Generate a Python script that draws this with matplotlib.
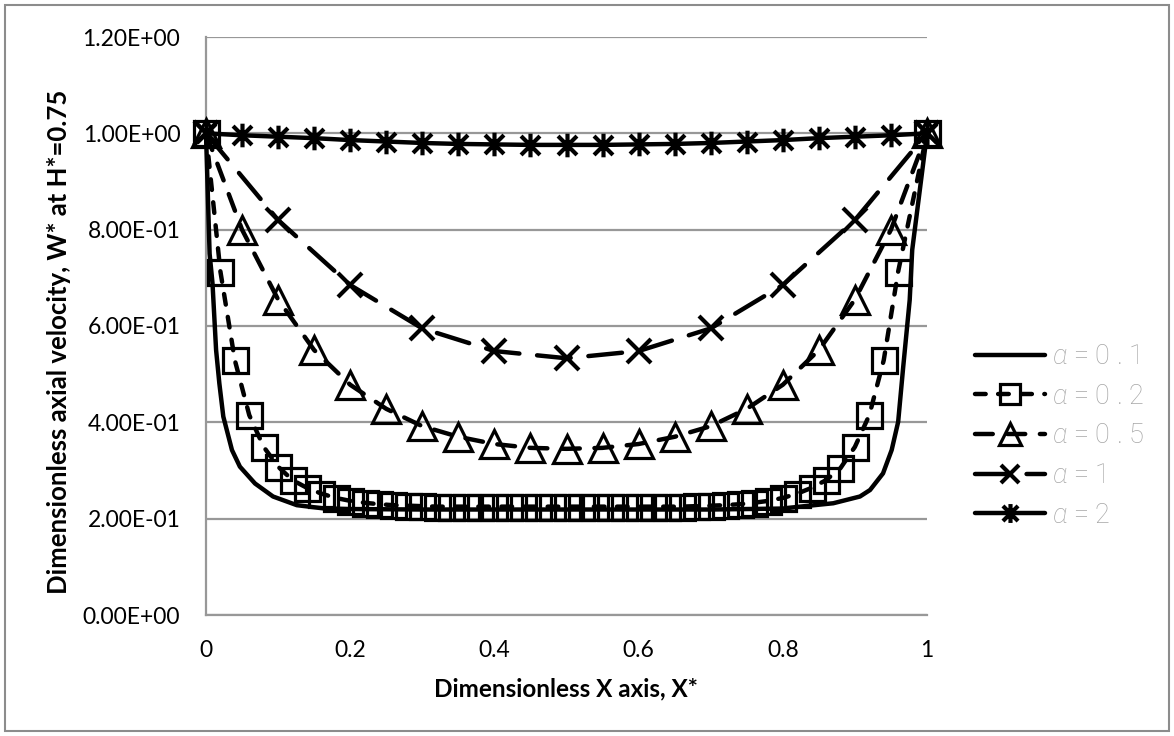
import matplotlib
matplotlib.use("Agg")
import matplotlib.pyplot as plt
from matplotlib.path import Path
from matplotlib.patches import Rectangle
from matplotlib.ticker import FuncFormatter, FixedLocator
from matplotlib.font_manager import FontProperties

plt.rcParams['font.family'] = ['Lato', 'DejaVu Sans']
plt.rcParams['mathtext.fontset'] = 'custom'
plt.rcParams['mathtext.it'] = 'Roboto:italic:light'
plt.rcParams['mathtext.rm'] = 'Roboto:light'

# ---- data -------------------------------------------------------------
labels = [r'$\alpha$ = 0 . 1', r'$\alpha$ = 0 . 2', r'$\alpha$ = 0 . 5',
          r'$\alpha$ = 1', r'$\alpha$ = 2']

x_a01 = [0.0, 0.005, 0.009, 0.014, 0.0185, 0.024, 0.036, 0.047, 0.068, 0.093,
         0.126, 0.162, 0.2, 0.3, 0.4, 0.5, 0.6, 0.7, 0.8, 0.824,
         0.87, 0.907, 0.921, 0.939, 0.951, 0.96, 0.967, 0.976, 0.9795, 1.0]
w_a01 = [1.0, 0.75, 0.689, 0.55, 0.481, 0.412, 0.3425, 0.308, 0.273, 0.246,
         0.228, 0.2215, 0.22, 0.219, 0.219, 0.219, 0.219, 0.219, 0.221, 0.225,
         0.232, 0.246, 0.2595, 0.294, 0.3425, 0.401, 0.515, 0.654, 0.758, 1.0]

x_a02 = [0.00, 0.02, 0.04, 0.06, 0.08, 0.10, 0.12, 0.14, 0.16, 0.18,
         0.20, 0.22, 0.24, 0.26, 0.28, 0.30, 0.32, 0.34, 0.36, 0.38,
         0.40, 0.42, 0.44, 0.46, 0.48, 0.50, 0.52, 0.54, 0.56, 0.58,
         0.60, 0.62, 0.64, 0.66, 0.68, 0.70, 0.72, 0.74, 0.76, 0.78,
         0.80, 0.82, 0.84, 0.86, 0.88, 0.90, 0.92, 0.94, 0.96, 1.00]
w_a02 = [1.000, 0.713, 0.529, 0.415, 0.349, 0.308, 0.280, 0.264, 0.252, 0.243,
         0.237, 0.233, 0.230, 0.228, 0.227, 0.226, 0.225, 0.225, 0.225, 0.225,
         0.225, 0.225, 0.225, 0.225, 0.225, 0.225, 0.225, 0.225, 0.225, 0.225,
         0.225, 0.225, 0.225, 0.225, 0.226, 0.227, 0.228, 0.230, 0.233, 0.237,
         0.243, 0.252, 0.264, 0.280, 0.305, 0.349, 0.415, 0.529, 0.713, 1.000]

x_a05 = [0.00, 0.05, 0.10, 0.15, 0.20, 0.25, 0.30, 0.35, 0.40, 0.45, 0.50,
         0.55, 0.60, 0.65, 0.70, 0.75, 0.80, 0.85, 0.90, 0.95, 1.00]
w_a05 = [1.0, 0.80, 0.655, 0.55, 0.478, 0.428, 0.392, 0.37, 0.355, 0.347, 0.345,
         0.347, 0.355, 0.37, 0.392, 0.428, 0.478, 0.55, 0.655, 0.80, 1.0]

x_a1 = [0.0, 0.1, 0.2, 0.3, 0.4, 0.5, 0.6, 0.7, 0.8, 0.9, 1.0]
w_a1 = [1.0, 0.82, 0.685, 0.595, 0.548, 0.533, 0.548, 0.595, 0.685, 0.82, 1.0]

x_a2 = [0.00, 0.05, 0.10, 0.15, 0.20, 0.25, 0.30, 0.35, 0.40, 0.45, 0.50,
        0.55, 0.60, 0.65, 0.70, 0.75, 0.80, 0.85, 0.90, 0.95, 1.00]
w_a2 = [1.0, 0.996, 0.993, 0.99, 0.986, 0.983, 0.98, 0.978, 0.977, 0.976, 0.976,
        0.976, 0.977, 0.978, 0.98, 0.983, 0.986, 0.99, 0.993, 0.996, 1.0]

x_ticks = [0, 0.2, 0.4, 0.6, 0.8, 1.0]
y_ticks = [0.0, 0.2, 0.4, 0.6, 0.8, 1.0, 1.2]

# ---- figure -----------------------------------------------------------
W, H = 1174, 736
fig = plt.figure(figsize=(W / 100, H / 100), dpi=100)
fig.patches.append(Rectangle((5 / W, 5 / H), 1 - 10 / W, 1 - 10 / H,
                             transform=fig.transFigure, fill=False,
                             edgecolor='#8c8c8c', linewidth=1.5))

ax = fig.add_axes([206 / W, 1 - 615 / H, (927 - 206) / W, (615 - 37) / H])
ax.set_xlim(0, 1)
ax.set_ylim(0, 1.2)

grid_col = '#989898'
for s in ('top', 'right'):
    ax.spines[s].set_visible(False)
for s in ('left', 'bottom'):
    ax.spines[s].set_color(grid_col)
    ax.spines[s].set_linewidth(1.6)
ax.yaxis.grid(True, color=grid_col, linewidth=1.6)
ax.set_axisbelow(True)

ax.xaxis.set_major_locator(FixedLocator(x_ticks))
ax.yaxis.set_major_locator(FixedLocator(y_ticks))
ax.xaxis.set_major_formatter(FuncFormatter(lambda v, p: f"{v:g}"))
ax.yaxis.set_major_formatter(FuncFormatter(lambda v, p: f"{v:.2E}"))
ax.tick_params(axis='both', length=0, labelsize=16.5, colors='black')
ax.tick_params(axis='x', pad=18)
ax.tick_params(axis='y', pad=18.5)

ax.set_xlabel('Dimensionless X axis, X*', fontsize=17.5, fontweight='bold', labelpad=12)
ax.set_ylabel('Dimensionless axial velocity, W* at H*=0.75', fontsize=18.5,
              fontweight='bold')
ax.yaxis.set_label_coords(-0.187, 0.472)

# asterisk marker: vertical bar plus two diagonals
star = Path([(0, -1), (0, 1), (-0.8, -0.8), (0.8, 0.8), (-0.8, 0.8), (0.8, -0.8)],
            [Path.MOVETO, Path.LINETO, Path.MOVETO, Path.LINETO, Path.MOVETO, Path.LINETO])

lw = 3.2
common = dict(color='black', linewidth=lw, clip_on=False, zorder=3,
              dash_capstyle='round', solid_capstyle='round')

ax.plot(x_a01, w_a01, label=labels[0], **common)
ax.plot(x_a02, w_a02, label=labels[1], linestyle=(0, (2.4, 2.8)),
        marker='s', markersize=18, markerfacecolor='none',
        markeredgecolor='black', markeredgewidth=2.3, **common)
ax.plot(x_a05, w_a05, label=labels[2], linestyle=(0, (4.0, 3.3)),
        marker='^', markersize=20, markerfacecolor='none',
        markeredgecolor='black', markeredgewidth=2.3, **common)
ax.plot(x_a1, w_a1, label=labels[3], linestyle=(0, (7.6, 4.0)),
        marker='x', markersize=17, markeredgewidth=3.0, **common)
ax.plot(x_a2, w_a2, label=labels[4], marker=star, markersize=17,
        markeredgewidth=3.0, **common)

leg_font = FontProperties(family='Roboto', weight='light', size=19.5)
fig.legend(loc='upper left', bbox_to_anchor=(975 / W, 1 - 343 / H),
           frameon=False, prop=leg_font, handlelength=2.6, handletextpad=0.25,
           labelspacing=0.47, borderpad=0, borderaxespad=0, numpoints=1,
           markerscale=0.8, labelcolor='#a6a6a6')

fig.savefig('out.png', dpi=100)
